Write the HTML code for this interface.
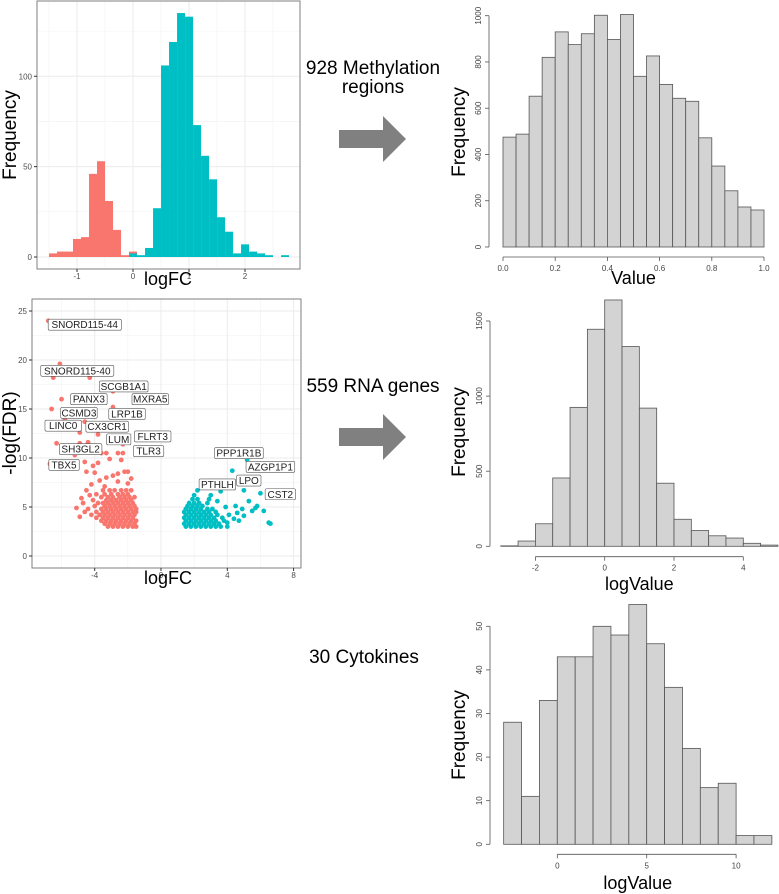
<!DOCTYPE html>
<html><head><meta charset="utf-8">
<style>
html,body{margin:0;padding:0;background:#fff;}
svg{display:block;font-family:"Liberation Sans",sans-serif;}
</style></head>
<body>
<svg id="fig" width="779" height="894" viewBox="0 0 779 894">
  <g>
    <text x="373" y="74" font-size="19" text-anchor="middle" fill="#000">928 Methylation</text>
    <text x="373" y="93" font-size="19" text-anchor="middle" fill="#000">regions</text>
  </g>
  <polygon points="339,130 383,130 383,116 406,139 383,162 383,148 339,148" fill="#808080"/>
  <text x="373" y="392" font-size="19" text-anchor="middle">559 RNA genes</text>
  <polygon points="339,428 383,428 383,414 406,437 383,460 383,446 339,446" fill="#808080"/>
  <text x="364" y="663" font-size="19" text-anchor="middle">30 Cytokines</text>
  <g id="p1"></g>
  <g id="p2"></g>
  <g id="p3"></g>
  <g id="p4"></g>
  <g id="p5"></g>
</svg>
<script>
// ---- data: logFC histogram (ggplot) ----
const fcBinStart = -1.5;
const fcBinWidth = 0.1429;
const fcRedCounts = [2,3,3,10,11,46,53,31,15,1,3];
const fcTealStartBin = 10;
const fcTealCounts = [2,1,5,27,106,119,135,133,73,56,43,22,14,2,7,3,2,1,0,1];
const fcXTicks = [-1,0,1,2];
const fcYTicks = [0,50,100];

// ---- data: volcano ----
const redPoints = [
 [-6.8,24],[-6.1,19.6],[-4.3,18.2],[-6.5,18.2],[-2.9,16.8],[-6.0,16.0],[-2.9,15.2],[-6.6,15.0],[-5.8,13.9],[-2.7,14.2],[-3.8,12.4],[-6.3,11.5],[-2.3,11.4],[-6.7,9.4],
 [-6.2,9.6],[-5.7,9.6],[-5.2,10.3],[-5.0,10.6],[-4.9,11.5],[-4.7,10.8],[-4.6,9.6],[-4.5,8.6],[-4.1,9.2],[-4.0,8.5],[-3.6,10.5],[-3.3,10.5],[-2.6,10.5],[-2.3,10.5],[-4.4,11.6],[-4.9,12.6],[-4.6,13.7],
 [-3.7,7.7],[-3.3,8.0],[-2.9,8.2],[-2.6,8.4],[-2.2,8.6],[-2.0,8.6],[-3.8,9.5],[-3.1,9.9],[-2.4,9.8],[-2.6,7.6],[-4.2,7.3],[-3.4,7.1],[-2.0,7.4],[-4.5,6.7],[-4.8,5.9],[-5.1,4.9],[-4.9,4.0],[-4.7,5.4],[-1.8,7.9],[-4.3,6.2],[-4.6,4.5],
 [-3.2,3.0],[-2.9,3.0],[-2.6,3.0],[-2.3,3.0],[-2.0,3.0],[-1.7,3.0],[-1.5,3.0],
 [-3.4,3.3],[-3.1,3.3],[-2.8,3.3],[-2.5,3.3],[-2.2,3.3],[-1.9,3.3],[-1.6,3.3],
 [-3.6,3.6],[-3.3,3.6],[-3.0,3.6],[-2.7,3.6],[-2.4,3.6],[-2.1,3.6],[-1.8,3.6],[-1.5,3.6],
 [-3.9,3.9],[-3.5,3.9],[-3.2,3.9],[-2.9,3.9],[-2.6,3.9],[-2.3,3.9],[-2.0,3.9],[-1.7,3.9],
 [-4.2,4.2],[-3.7,4.2],[-3.4,4.2],[-3.1,4.2],[-2.8,4.2],[-2.5,4.2],[-2.2,4.2],[-1.9,4.2],[-1.6,4.2],
 [-3.9,4.5],[-3.5,4.5],[-3.2,4.5],[-2.9,4.5],[-2.6,4.5],[-2.3,4.5],[-2.0,4.5],[-1.7,4.5],[-1.5,4.5],
 [-4.4,4.8],[-3.6,4.8],[-3.3,4.8],[-3.0,4.8],[-2.7,4.8],[-2.4,4.8],[-2.1,4.8],[-1.8,4.8],[-1.5,4.8],
 [-4.0,5.1],[-3.4,5.1],[-3.1,5.1],[-2.8,5.1],[-2.5,5.1],[-2.2,5.1],[-1.9,5.1],[-1.6,5.1],
 [-3.8,5.4],[-3.5,5.4],[-3.2,5.4],[-2.9,5.4],[-2.6,5.4],[-2.3,5.4],[-2.0,5.4],[-1.7,5.4],
 [-4.1,5.7],[-3.3,5.7],[-3.0,5.7],[-2.7,5.7],[-2.4,5.7],[-2.1,5.7],[-1.8,5.7],
 [-3.6,6.0],[-3.2,6.0],[-2.9,6.0],[-2.5,6.0],[-2.2,6.0],[-1.9,6.0],[-1.6,6.0],
 [-3.9,6.3],[-3.4,6.3],[-3.0,6.3],[-2.6,6.3],[-2.3,6.3],[-2.0,6.3],
 [-3.5,6.7],[-3.1,6.7],[-2.8,6.7],[-2.4,6.7],[-2.1,6.7],[-1.8,6.7]
];
const tealPoints = [
 [5.2,9.8],[4.3,8.7],[5.5,7.6],[7.7,6.1],[3.1,7.2],[2.2,6.7],[3.6,6.6],[4.1,7.2],[5.0,6.7],[6.0,6.4],[5.3,5.6],[5.8,5.1],[6.2,4.6],[6.5,3.4],[6.6,3.3],[4.5,5.1],[4.9,4.8],[4.1,4.2],[3.9,5.0],[4.4,3.8],[5.0,4.1],[3.3,4.5],[4.7,3.6],[3.7,3.9],[2.9,5.8],[3.4,5.6],[3.0,6.2],[5.5,4.6],[4.6,4.4],[4.0,3.4],[5.7,4.9],
 [1.5,3.0],[1.8,3.0],[2.1,3.0],[2.4,3.0],[2.7,3.0],[3.0,3.0],[3.3,3.0],[3.6,3.0],[4.0,3.0],
 [1.4,3.3],[1.7,3.3],[2.0,3.3],[2.3,3.3],[2.6,3.3],[2.9,3.3],[3.2,3.3],[3.5,3.3],
 [1.5,3.6],[1.8,3.6],[2.1,3.6],[2.4,3.6],[2.7,3.6],[3.0,3.6],[3.3,3.6],[3.8,3.6],
 [1.4,3.9],[1.7,3.9],[2.0,3.9],[2.3,3.9],[2.6,3.9],[2.9,3.9],[3.2,3.9],
 [1.5,4.2],[1.8,4.2],[2.1,4.2],[2.4,4.2],[2.7,4.2],[3.0,4.2],[3.4,4.2],
 [1.4,4.5],[1.7,4.5],[2.0,4.5],[2.3,4.5],[2.6,4.5],[2.9,4.5],
 [1.5,4.8],[1.8,4.8],[2.1,4.8],[2.4,4.8],[2.8,4.8],[3.1,4.8],
 [1.6,5.1],[1.9,5.1],[2.2,5.1],[2.5,5.1],
 [1.7,5.4],[2.0,5.4],[2.3,5.4],[2.8,5.4],
 [1.9,5.8],[2.2,5.8],[2.0,6.2]
];
const volcanoLabels = ["SNORD115-44","SNORD115-40","SCGB1A1","PANX3","MXRA5","CSMD3","LRP1B","LINC0","CX3CR1","FLRT3","LUM","SH3GL2","TLR3","TBX5","PPP1R1B","AZGP1P1","LPO","PTHLH","CST2"];
const labelFC  = [-4.6,-5.05,-2.25,-4.35,-0.65,-4.95,-2.05,-5.9,-3.25,-0.5,-2.55,-4.85,-0.75,-5.85,4.7,6.6,5.3,3.4,7.2];
const labelSig = [23.6,18.9,17.3,16.0,16.0,14.6,14.5,13.3,13.2,12.2,11.9,10.9,10.7,9.3,10.5,9.1,7.7,7.3,6.3];
const volXTicks = [-4,0,4,8];
const volYTicks = [0,5,10,15,20,25];

// ---- data: value histogram ----
const valBinStart = 0, valBinWidth = 0.05;
const valCounts = [475,488,652,820,930,875,922,1002,897,1005,738,826,703,643,630,472,350,243,173,160];
const valXTicks = ["0.0","0.2","0.4","0.6","0.8","1.0"];
const valYTicks = [0,200,400,600,800,1000];

// ---- data: RNA logValue histogram ----
const rnaBinStart = -3, rnaBinWidth = 0.5;
const rnaCounts = [3,35,150,455,925,1445,1640,1330,920,420,180,105,70,55,20,8];
const rnaXTicks = [-2,0,2,4];
const rnaYTicks = [0,500,1000,1500];

// ---- data: cytokine logValue histogram ----
const cytBinStart = -3, cytBinWidth = 1;
const cytCounts = [28,11,33,43,43,50,48,55,46,36,22,13,14,2,2];
const cytXTicks = [0,5,10];
const cytYTicks = [0,10,20,30,40,50];

const NS="http://www.w3.org/2000/svg";
function mk(parent,tag,attrs,text){const e=document.createElementNS(NS,tag);for(const k in attrs)e.setAttribute(k,attrs[k]);if(text!==undefined)e.textContent=text;parent.appendChild(e);return e;}
function lin(d0,d1,r0,r1){return v=>r0+(v-d0)*(r1-r0)/(d1-d0);}

// ===== Panel 1: ggplot logFC histogram =====
(function(){
 const g=document.getElementById('p1');
 const L=37,R=300,T=1,B=269;
 const x=lin(0,1,133,189), y=lin(0,100,257,76.3);
 mk(g,'rect',{x:L,y:T,width:R-L,height:B-T,fill:'#fff'});
 [-1.5,-0.5,0.5,1.5,2.5].forEach(v=>mk(g,'line',{x1:x(v),x2:x(v),y1:T,y2:B,stroke:'#f2f2f2','stroke-width':0.6}));
 [25,75,125].forEach(v=>mk(g,'line',{x1:L,x2:R,y1:y(v),y2:y(v),stroke:'#f2f2f2','stroke-width':0.6}));
 fcXTicks.forEach(v=>mk(g,'line',{x1:x(v),x2:x(v),y1:T,y2:B,stroke:'#ebebeb','stroke-width':1}));
 fcYTicks.forEach(v=>mk(g,'line',{x1:L,x2:R,y1:y(v),y2:y(v),stroke:'#ebebeb','stroke-width':1}));
 fcRedCounts.forEach((c,i)=>{
  const x0=x(fcBinStart+i*fcBinWidth), x1=x(fcBinStart+(i+1)*fcBinWidth);
  const r=mk(g,'rect',{x:x0,y:y(c),width:x1-x0,height:y(0)-y(c),fill:'#F8766D'});
  
  
 });
 fcTealCounts.forEach((c,j)=>{
  const i=fcTealStartBin+j;
  const x0=x(fcBinStart+i*fcBinWidth), x1=x(fcBinStart+(i+1)*fcBinWidth);
  const r=mk(g,'rect',{x:x0,y:y(c),width:x1-x0,height:y(0)-y(c),fill:'#00BFC4'});
  
  
 });
 mk(g,'rect',{x:L,y:T,width:R-L,height:B-T,fill:'none',stroke:'#7f7f7f','stroke-width':1});
 fcXTicks.forEach(v=>{mk(g,'line',{x1:x(v),x2:x(v),y1:B,y2:B+3,stroke:'#333'});mk(g,'text',{x:x(v),y:B+10,'font-size':8,'text-anchor':'middle',fill:'#4d4d4d'},String(v));});
 fcYTicks.forEach(v=>{mk(g,'line',{x1:L-3,x2:L,y1:y(v),y2:y(v),stroke:'#333'});mk(g,'text',{x:L-5,y:y(v)+3,'font-size':8,'text-anchor':'end',fill:'#4d4d4d'},String(v));});
 const xt=mk(g,'text',{x:168,y:285,'font-size':18,'text-anchor':'middle'},'logFC');
 
 const yt=mk(g,'text',{x:0,y:0,'font-size':19,'text-anchor':'middle',transform:'translate(16,135) rotate(-90)'},'Frequency');
 
})();

// ===== Panel 2: volcano =====
(function(){
 const g=document.getElementById('p2');
 const L=32,R=301,T=299,B=568;
 const x=lin(0,4,161,227.3), y=lin(0,25,556,311);
 mk(g,'rect',{x:L,y:T,width:R-L,height:B-T,fill:'#fff'});
 [-6,-2,2,6].forEach(v=>mk(g,'line',{x1:x(v),x2:x(v),y1:T,y2:B,stroke:'#f2f2f2','stroke-width':0.6}));
 [2.5,7.5,12.5,17.5,22.5].forEach(v=>mk(g,'line',{x1:L,x2:R,y1:y(v),y2:y(v),stroke:'#f2f2f2','stroke-width':0.6}));
 volXTicks.forEach(v=>mk(g,'line',{x1:x(v),x2:x(v),y1:T,y2:B,stroke:'#ebebeb'}));
 volYTicks.forEach(v=>mk(g,'line',{x1:L,x2:R,y1:y(v),y2:y(v),stroke:'#ebebeb'}));
 redPoints.forEach(p=>{const c=mk(g,'circle',{cx:x(p[0]),cy:y(p[1]),r:2.4,fill:'#F8766D'});
  });
 tealPoints.forEach(p=>{const c=mk(g,'circle',{cx:x(p[0]),cy:y(p[1]),r:2.4,fill:'#00BFC4'});
  });
 volcanoLabels.forEach((t,i)=>{
  const cx=x(labelFC[i]), cy=y(labelSig[i]);
  const w=t.length*6.1+6;
  const lg=mk(g,'g',{});
  
  
  mk(lg,'rect',{x:cx-w/2,y:cy-5.5,width:w,height:11,rx:1.5,fill:'#fff',stroke:'#555','stroke-width':0.6});
  mk(lg,'text',{x:cx,y:cy+3.5,'font-size':10,'text-anchor':'middle',fill:'#222'},t);
 });
 mk(g,'rect',{x:L,y:T,width:R-L,height:B-T,fill:'none',stroke:'#7f7f7f'});
 volXTicks.forEach(v=>{mk(g,'line',{x1:x(v),x2:x(v),y1:B,y2:B+3,stroke:'#333'});mk(g,'text',{x:x(v),y:B+10,'font-size':8,'text-anchor':'middle',fill:'#4d4d4d'},String(v));});
 volYTicks.forEach(v=>{mk(g,'line',{x1:L-3,x2:L,y1:y(v),y2:y(v),stroke:'#333'});mk(g,'text',{x:L-5,y:y(v)+3,'font-size':8,'text-anchor':'end',fill:'#4d4d4d'},String(v));});
 const xt=mk(g,'text',{x:168,y:584,'font-size':18,'text-anchor':'middle'},'logFC');
 
 const yt=mk(g,'text',{x:0,y:0,'font-size':19,'text-anchor':'middle',transform:'translate(16,433) rotate(-90)'},'-log(FDR)');
 
})();

// ===== base-R histograms =====
function baseHist(id,counts,b0,bw,x,y,xTicks,yTicks,axisX,axisY,xlab,xlabY,ylabX,ylabY){
 const g=document.getElementById(id);
 counts.forEach((c,i)=>{
  const x0=x(b0+i*bw), x1=x(b0+(i+1)*bw);
  const r=mk(g,'rect',{x:x0,y:y(c),width:x1-x0,height:y(0)-y(c),fill:'#d3d3d3',stroke:'#555','stroke-width':0.8});
  
  
 });
 const xv=xTicks.map(Number);
 mk(g,'line',{x1:x(xv[0]),x2:x(xv[xv.length-1]),y1:axisX,y2:axisX,stroke:'#555','stroke-width':0.8});
 xTicks.forEach(t=>{const v=Number(t);mk(g,'line',{x1:x(v),x2:x(v),y1:axisX,y2:axisX+4,stroke:'#555','stroke-width':0.8});
  mk(g,'text',{x:x(v),y:axisX+14,'font-size':8,'text-anchor':'middle',fill:'#444'},String(t));});
 mk(g,'line',{x1:axisY,x2:axisY,y1:y(yTicks[0]),y2:y(yTicks[yTicks.length-1]),stroke:'#555','stroke-width':0.8});
 yTicks.forEach(v=>{mk(g,'line',{x1:axisY-4,x2:axisY,y1:y(v),y2:y(v),stroke:'#555','stroke-width':0.8});
  mk(g,'text',{x:0,y:0,'font-size':8,'text-anchor':'middle',fill:'#444',transform:`translate(${axisY-8},${y(v)}) rotate(-90)`},String(v));});
 const xt=mk(g,'text',{x:(x(b0)+x(b0+counts.length*bw))/2,y:xlabY,'font-size':18,'text-anchor':'middle'},xlab);
 
 const yt=mk(g,'text',{x:0,y:0,'font-size':19,'text-anchor':'middle',transform:`translate(${ylabX},${ylabY}) rotate(-90)`},'Frequency');
 
}
baseHist('p3',valCounts,valBinStart,valBinWidth,lin(0,1,503,764),lin(0,1000,247,15.7),valXTicks,valYTicks,257,489,'Value',284,465,132);
baseHist('p4',rnaCounts,rnaBinStart,rnaBinWidth,lin(0,2,604.7,674),lin(0,1500,546.3,321),rnaXTicks,rnaYTicks,556.7,490,'logValue',590,465,432);
baseHist('p5',cytCounts,cytBinStart,cytBinWidth,lin(0,5,557.3,646.7),lin(0,50,844.3,626.3),cytXTicks,cytYTicks,854.3,490,'logValue',889,465,735);
</script>
</body></html>
